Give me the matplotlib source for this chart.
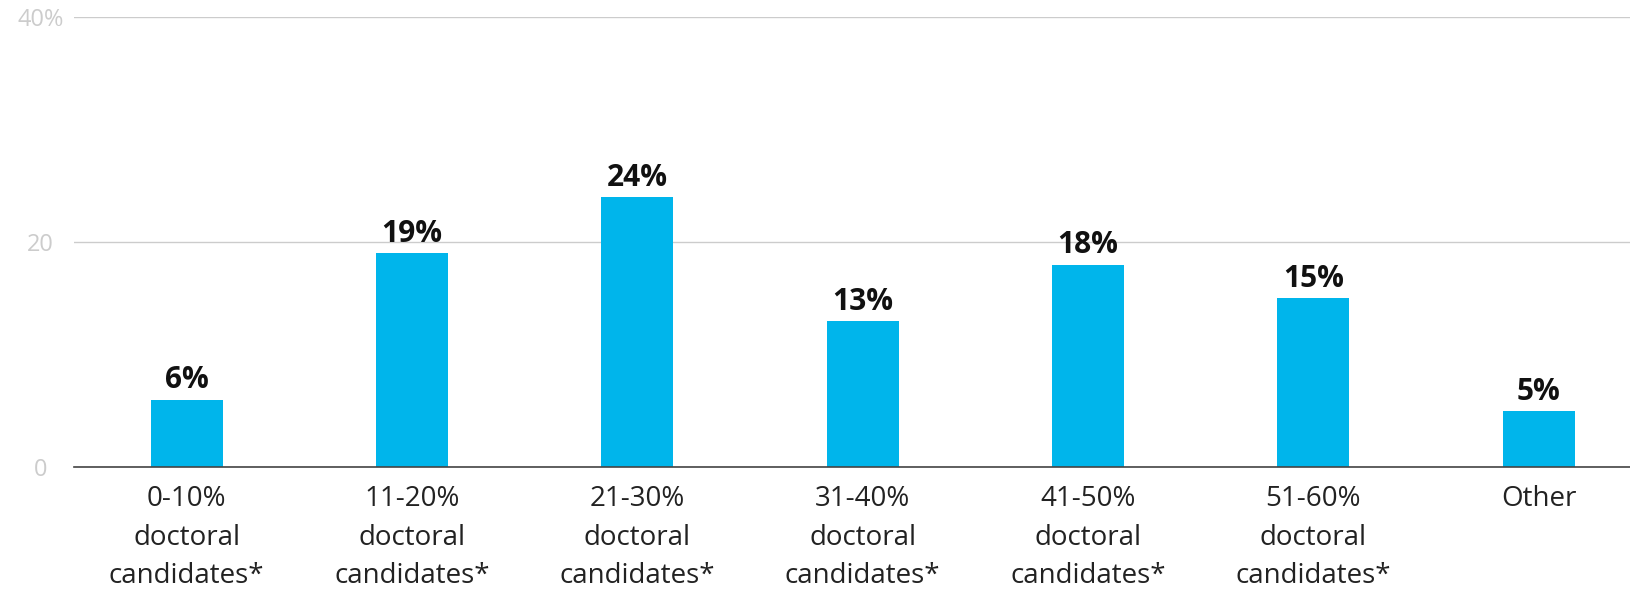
import numpy as np
import matplotlib
matplotlib.use('Agg')
import matplotlib.pyplot as plt

plt.rcParams['font.family'] = ['Open Sans', 'DejaVu Sans']

categories = ['0-10%\ndoctoral\ncandidates*', '11-20%\ndoctoral\ncandidates*',
              '21-30%\ndoctoral\ncandidates*', '31-40%\ndoctoral\ncandidates*',
              '41-50%\ndoctoral\ncandidates*', '51-60%\ndoctoral\ncandidates*',
              'Other']
values = [6, 19, 24, 13, 18, 15, 5]
ytick_vals = [0, 20, 40]
ytick_labels = ['0', '20', '40%']

fig = plt.figure(figsize=(16.31, 5.96), dpi=100)
ax = fig.add_axes([74 / 1631, 129 / 596, 1 - 74 / 1631, (467 - 17) / 596])

x = np.arange(len(categories))
bars = ax.bar(x, values, width=0.32, color='#00b5eb', zorder=3)
for b, v in zip(bars, values):
    ax.annotate('{}%'.format(v), (b.get_x() + b.get_width() / 2, v),
                xytext=(0, 3), textcoords='offset points',
                ha='center', va='bottom', fontsize=21.5, fontweight='bold',
                color='#111111')

ax.set_xlim(-0.5, 6.41)
ax.set_ylim(0, 40)
ax.set_yticks(ytick_vals)
ax.set_yticklabels(ytick_labels, color='#cccccc', fontsize=17)
for lab in ax.get_yticklabels():
    lab.set_horizontalalignment('center')
ax.tick_params(axis='y', length=0, pad=24)
ax.set_xticks(x)
ax.set_xticklabels(categories, fontsize=20, color='#222222', linespacing=1.5)
ax.tick_params(axis='x', length=0, pad=13)

ax.grid(axis='y', color='#cccccc', linewidth=1, zorder=0)
for s in ['top', 'right', 'left']:
    ax.spines[s].set_visible(False)
ax.spines['bottom'].set_color('#444444')
ax.spines['bottom'].set_linewidth(1.2)
ax.spines['bottom'].set_zorder(4)

fig.savefig('out.png', dpi=100)
